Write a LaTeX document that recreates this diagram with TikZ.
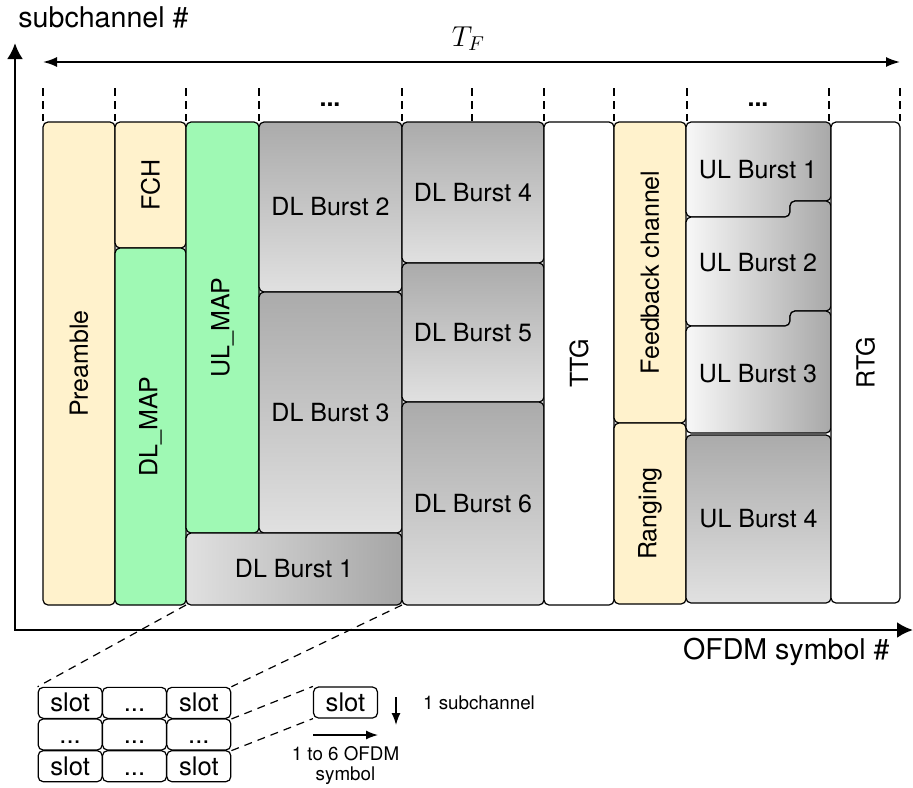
\documentclass[tikz,border=0pt]{standalone}
\usepackage{fontspec}
\setsansfont{TeX Gyre Heros}
\usetikzlibrary{arrows.meta}

\definecolor{paleyellow}{HTML}{FFF2CC}
\definecolor{palegreen}{HTML}{9FF9B4}

\tikzset{
  lbl/.style={font=\sffamily\fontsize{12.5}{15}\selectfont},
  blk/.style={draw, line width=0.6pt, rounded corners=2.5pt, inner sep=0pt, outer sep=0pt, lbl},
  hsz/.style 2 args={minimum width=#1*0.5pt, minimum height=#2*0.5pt},
  vsz/.style 2 args={rotate=90, minimum width=#2*0.5pt, minimum height=#1*0.5pt},
  vshade/.style={top color=black!33, bottom color=black!12},
  hshade/.style={left color=black!3, right color=black!34},
  slotbox/.style={draw, fill=white, line width=0.6pt, rounded corners=2.5pt, minimum width=32pt, minimum height=15.5pt, inner sep=0pt, text height=9pt, text depth=0pt, font=\sffamily\fontsize{12.8}{15}\selectfont},
  smalltxt/.style={font=\sffamily\fontsize{9.4}{9.7}\selectfont},
  axlbl/.style={inner sep=0pt, font=\sffamily\fontsize{14.3}{17}\selectfont}
}

\begin{document}
\begin{tikzpicture}[x=0.5pt, y=-0.5pt, >={Latex[length=8pt, width=8pt]}]
\useasboundingbox (0,0) rectangle (913,787);

\draw[line width=1.4pt, <->] (15,43) -- (15,630) -- (913,630); %axes
\node[axlbl, anchor=base west] (ylab) at (18,27) {subchannel \#};
\node[axlbl, anchor=base east] (xlab) at (890,659) {OFDM symbol \#};

\coordinate (fstart) at (43,62);
\coordinate (fend) at (900,62);
\draw[line width=0.9pt, <->, >={Latex[length=7pt, width=5pt]}] (fstart) -- (fend); %frame
\node[inner sep=0pt, anchor=base, font=\fontsize{14}{16}\selectfont] (tf) at (468.5,46) {$T_F$};

\foreach \x in {43,115,186,259,402,472,544,614,687,829,900}
  \draw[line width=0.6pt, dash pattern=on 4pt off 2.5pt] (\x,88) -- (\x,121);
\node[lbl, anchor=base, inner sep=0pt] (dotsA) at (330,106) {\textbf{...}};
\node[lbl, anchor=base, inner sep=0pt] (dotsB) at (758,106) {\textbf{...}};

% downlink
\node[blk, vsz={72}{483}, fill=paleyellow] (pre) at (79,363.5) {Preamble};
\node[blk, vsz={71}{126}, fill=paleyellow] (fch) at (150.5,185) {FCH};
\node[blk, vsz={71}{357}, fill=palegreen] (dlmap) at (150.5,426.5) {DL\_MAP};
\node[blk, vsz={73}{411}, fill=palegreen] (ulmap) at (222.5,327.5) {UL\_MAP};
\node[blk, hsz={143}{170}, vshade] (dl2) at (330.5,207) {DL Burst 2};
\node[blk, hsz={143}{241}, vshade] (dl3) at (330.5,412.5) {DL Burst 3};
\node[blk, hsz={216}{72}, left color=black!12, right color=black!35] (dl1) at (294,569) {DL Burst 1};
\node[blk, hsz={142}{141}, vshade] (dl4) at (473,192.5) {DL Burst 4};
\node[blk, hsz={142}{139}, vshade] (dl5) at (473,332.5) {DL Burst 5};
\node[blk, hsz={142}{203}, vshade] (dl6) at (473,503.5) {DL Burst 6};
\node[blk, vsz={70}{483}, fill=white] (ttg) at (579,363.5) {TTG};

% uplink
\node[blk, vsz={72}{301}, fill=paleyellow] (fb) at (650,272.5) {Feedback channel};
\node[blk, vsz={72}{181}, fill=paleyellow] (rng) at (650,513.5) {Ranging};
\draw[blk, hshade] (686,122) -- (831,122) -- (831,201) -- (790,201) -- (790,217) -- (686,217) -- cycle;
\draw[blk, hshade] (686,217) -- (790,217) -- (790,201) -- (831,201) -- (831,311) -- (790,311) -- (790,326) -- (686,326) -- cycle;
\draw[blk, hshade] (686,326) -- (790,326) -- (790,311) -- (831,311) -- (831,433) -- (686,433) -- cycle;
\node[lbl] (ul1) at (758,170) {UL Burst 1};
\node[lbl] (ul2) at (758,263) {UL Burst 2};
\node[lbl] (ul3) at (758,374) {UL Burst 3};
\node[blk, hsz={145}{168}, vshade] (ul4) at (758.5,519) {UL Burst 4};
\node[blk, vsz={69}{481}, fill=white] (rtg) at (865.5,362.5) {RTG};

% slots
\foreach \i in {1,2,3}
  \foreach \j in {1,2,3}
    \node[slotbox] (c-\i-\j) at ({38+64.33*(\j-0.5)},{687+31.67*(\i-0.5)}) {\ifodd\i\relax\ifodd\j\relax slot\else...\fi\else...\fi};
\node[slotbox] (one) at (345.5,702.5) {slot};

\draw[line width=0.6pt, dash pattern=on 4pt off 3pt] (dl1.south west) -- (c-1-1.north west);
\draw[line width=0.6pt, dash pattern=on 4pt off 3pt] (dl1.south east) -- (c-1-3.north east);
\draw[line width=0.6pt, dash pattern=on 4pt off 3pt] (c-1-3.south east) -- (one.north west);
\draw[line width=0.6pt, dash pattern=on 4pt off 3pt] (c-2-3.south east) -- (one.south west);

\draw[line width=0.7pt, ->, >={Latex[length=6pt, width=4.5pt]}] (396,697) -- (396,725); %1 subchannel
\draw[line width=0.7pt, ->, >={Latex[length=6pt, width=4.5pt]}] (313,735) -- (378,735); %symbols
\node[smalltxt, anchor=west] (subc) at (416,703) {1 subchannel};
\node[smalltxt, align=center] (sym) at (345.5,765.5) {1 to 6 OFDM\\symbol};

\end{tikzpicture}
\end{document}
